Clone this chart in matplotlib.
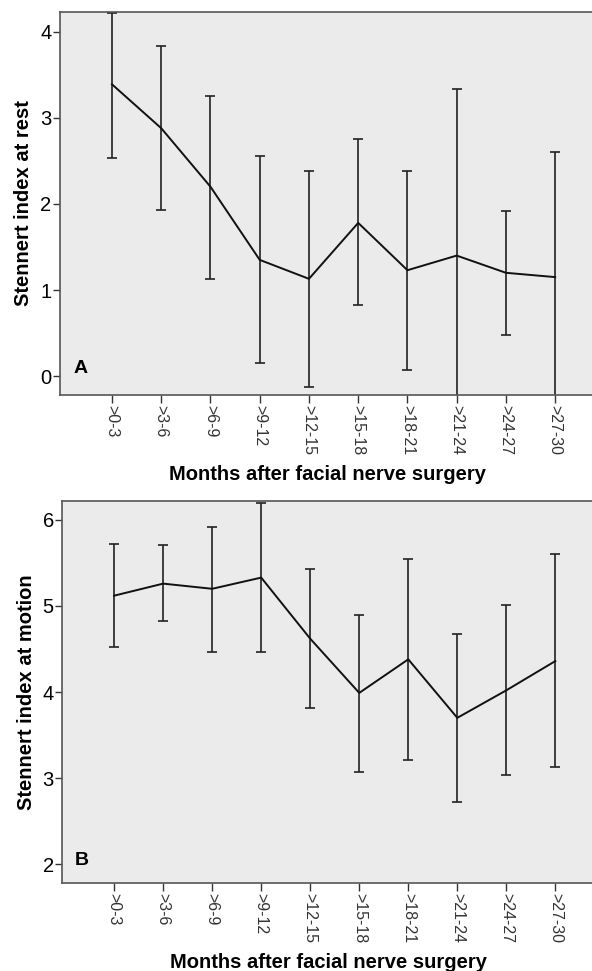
import matplotlib
matplotlib.use("Agg")
import matplotlib.pyplot as plt

plt.rcParams['font.family'] = ['Liberation Sans', 'DejaVu Sans']

# data
periods = [">0-3", ">3-6", ">6-9", ">9-12", ">12-15", ">15-18", ">18-21", ">21-24", ">24-27", ">27-30"]

rest_mean = [3.39, 2.88, 2.20, 1.35, 1.13, 1.78, 1.23, 1.40, 1.20, 1.15]
rest_low = [2.53, 1.93, 1.13, 0.15, -0.13, 0.83, 0.07, -0.54, 0.48, -0.30]
rest_high = [4.22, 3.84, 3.26, 2.56, 2.38, 2.75, 2.38, 3.34, 1.92, 2.60]

motion_mean = [5.12, 5.26, 5.20, 5.33, 4.62, 3.99, 4.38, 3.70, 4.02, 4.36]
motion_low = [4.52, 4.82, 4.47, 4.46, 3.82, 3.07, 3.21, 2.72, 3.03, 3.13]
motion_high = [5.72, 5.71, 5.92, 6.20, 5.43, 4.89, 5.55, 4.67, 5.01, 5.60]

fig = plt.figure(figsize=(5.92, 9.71), dpi=100)

ax_a = fig.add_axes([0.101, 0.5932, 0.905, 0.3944])
ax_b = fig.add_axes([0.105, 0.0906, 0.901, 0.3934])


def draw_panel(ax, mean, low, high, ylabel, letter, yticks, ylim, letter_pos):
    x = list(range(len(periods)))
    err_lo = [m - l for m, l in zip(mean, low)]
    err_hi = [h - m for m, h in zip(mean, high)]
    ax.set_facecolor('#ebebeb')
    ax.errorbar(x, mean, yerr=[err_lo, err_hi], fmt='none', ecolor='#222222',
                elinewidth=1.2, capsize=3.8, capthick=1.2, zorder=2)
    ax.plot(x, mean, color='#111111', lw=1.4, zorder=3)
    ax.set_xlim(-1.06, 9.82)
    ax.set_ylim(*ylim)
    ax.set_yticks(yticks)
    ax.set_yticklabels([str(t) for t in yticks], fontsize=14.5)
    ax.set_xticks(x)
    ax.set_xticklabels(periods, rotation=-90, fontsize=11.5, color='#333333')
    ax.tick_params(axis='x', direction='out', length=6, width=1, color='#333333', pad=1)
    ax.tick_params(axis='y', direction='out', length=5, width=1, color='#333333', pad=1)
    for s in ax.spines.values():
        s.set_color('#555555')
        s.set_linewidth(1.2)
    ax.set_ylabel(ylabel, fontsize=14.5, fontweight='bold', labelpad=5)
    ax.set_xlabel("Months after facial nerve surgery", fontsize=14.5, fontweight='bold', labelpad=7)
    ax.text(letter_pos[0], letter_pos[1], letter, transform=ax.transAxes, fontsize=14,
            fontweight='bold', ha='left', va='center')


draw_panel(ax_a, rest_mean, rest_low, rest_high, "Stennert index at rest", "A",
           [0, 1, 2, 3, 4], (-0.22, 4.23), (0.026, 0.068))
draw_panel(ax_b, motion_mean, motion_low, motion_high, "Stennert index at motion", "B",
           [2, 3, 4, 5, 6], (1.78, 6.22), (0.024, 0.06))

fig.savefig("out.png", dpi=100)
